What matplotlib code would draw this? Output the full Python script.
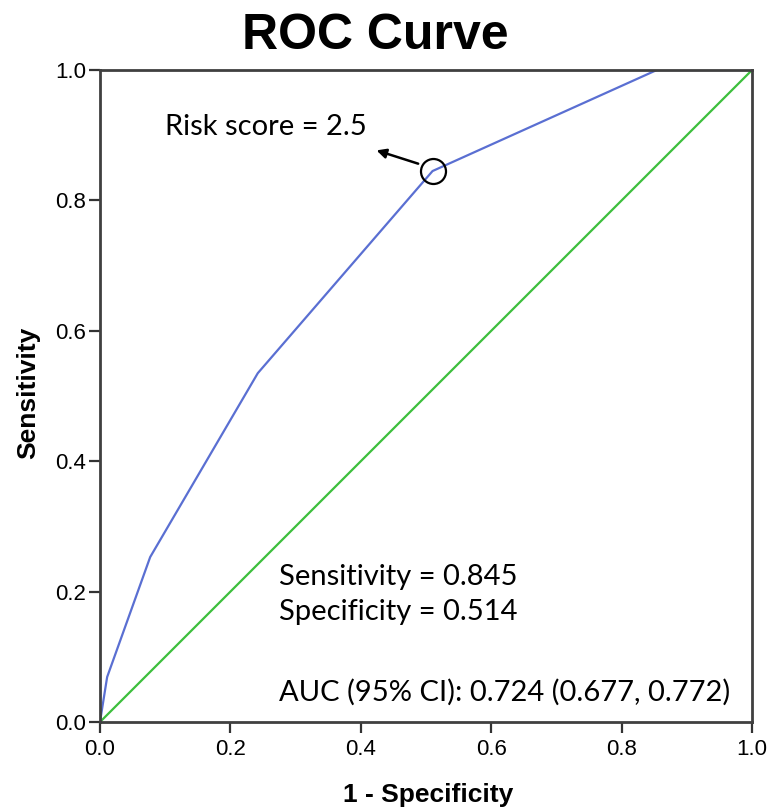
import matplotlib
matplotlib.use("Agg")
import matplotlib.pyplot as plt
from matplotlib import font_manager as fm

fpr = [0.0, 0.011, 0.077, 0.242, 0.510, 0.854, 1.0]
tpr = [0.0, 0.069, 0.253, 0.535, 0.845, 1.0, 1.0]
ref_x = [0.0, 1.0]
ref_y = [0.0, 1.0]
cut_x, cut_y = 0.510, 0.845
ticks = [0.0, 0.2, 0.4, 0.6, 0.8, 1.0]
tick_labels = ["0.0", "0.2", "0.4", "0.6", "0.8", "1.0"]

names = {f.name for f in fm.fontManager.ttflist}
narrow = "Liberation Sans Narrow" if "Liberation Sans Narrow" in names else "Liberation Sans"
body = "Lato" if "Lato" in names else "DejaVu Sans"

fig = plt.figure(figsize=(7.69, 8.08), dpi=100)
ax = fig.add_axes([0.130, 0.1064, 0.848, 0.807])

ax.plot(ref_x, ref_y, color="#3dbf3d", lw=1.6)
ax.plot(fpr, tpr, color="#5a6fd2", lw=1.6)
ax.plot([cut_x], [cut_y], marker="o", ms=18, mfc="none", mec="black", mew=1.6)
ax.annotate("", xy=(0.42, 0.878), xytext=(cut_x - 0.018, cut_y + 0.01),
            arrowprops=dict(arrowstyle="-|>", color="black", lw=1.8, mutation_scale=14))
ax.text(0.099, 0.912, "Risk score = 2.5", fontsize=21, family=body, va="center", ha="left")

ax.text(0.275, 0.222, "Sensitivity = 0.845", fontsize=21, family=body, va="center")
ax.text(0.275, 0.168, "Specificity = 0.514", fontsize=21, family=body, va="center")
ax.text(0.275, 0.045, "AUC (95% CI): 0.724 (0.677, 0.772)", fontsize=21, family=body, va="center")

ax.set_xlim(0, 1)
ax.set_ylim(0, 1)
ax.set_xticks(ticks)
ax.set_xticklabels(tick_labels, family=narrow, fontsize=16)
ax.set_yticks(ticks)
ax.set_yticklabels(tick_labels, family=narrow, fontsize=16)
ax.tick_params(direction="out", length=8, width=1.6, color="#333333", pad=2)
ax.tick_params(axis="x", pad=4)
for s in ax.spines.values():
    s.set_linewidth(2.0)
    s.set_color("#404040")

fig.text(428 / 769, 1 - 795 / 808, "1 - Specificity", ha="center", va="center",
         family=narrow, fontsize=19, fontweight="bold")
fig.text(28 / 769, 1 - 393 / 808, "Sensitivity", ha="center", va="center", rotation=90,
         family=narrow, fontsize=19, fontweight="bold")
fig.text(375 / 769, 1 - 36 / 808, "ROC Curve", ha="center", va="center", fontsize=36,
         fontweight="bold", family="Liberation Sans")

fig.savefig("out.png", dpi=100)
